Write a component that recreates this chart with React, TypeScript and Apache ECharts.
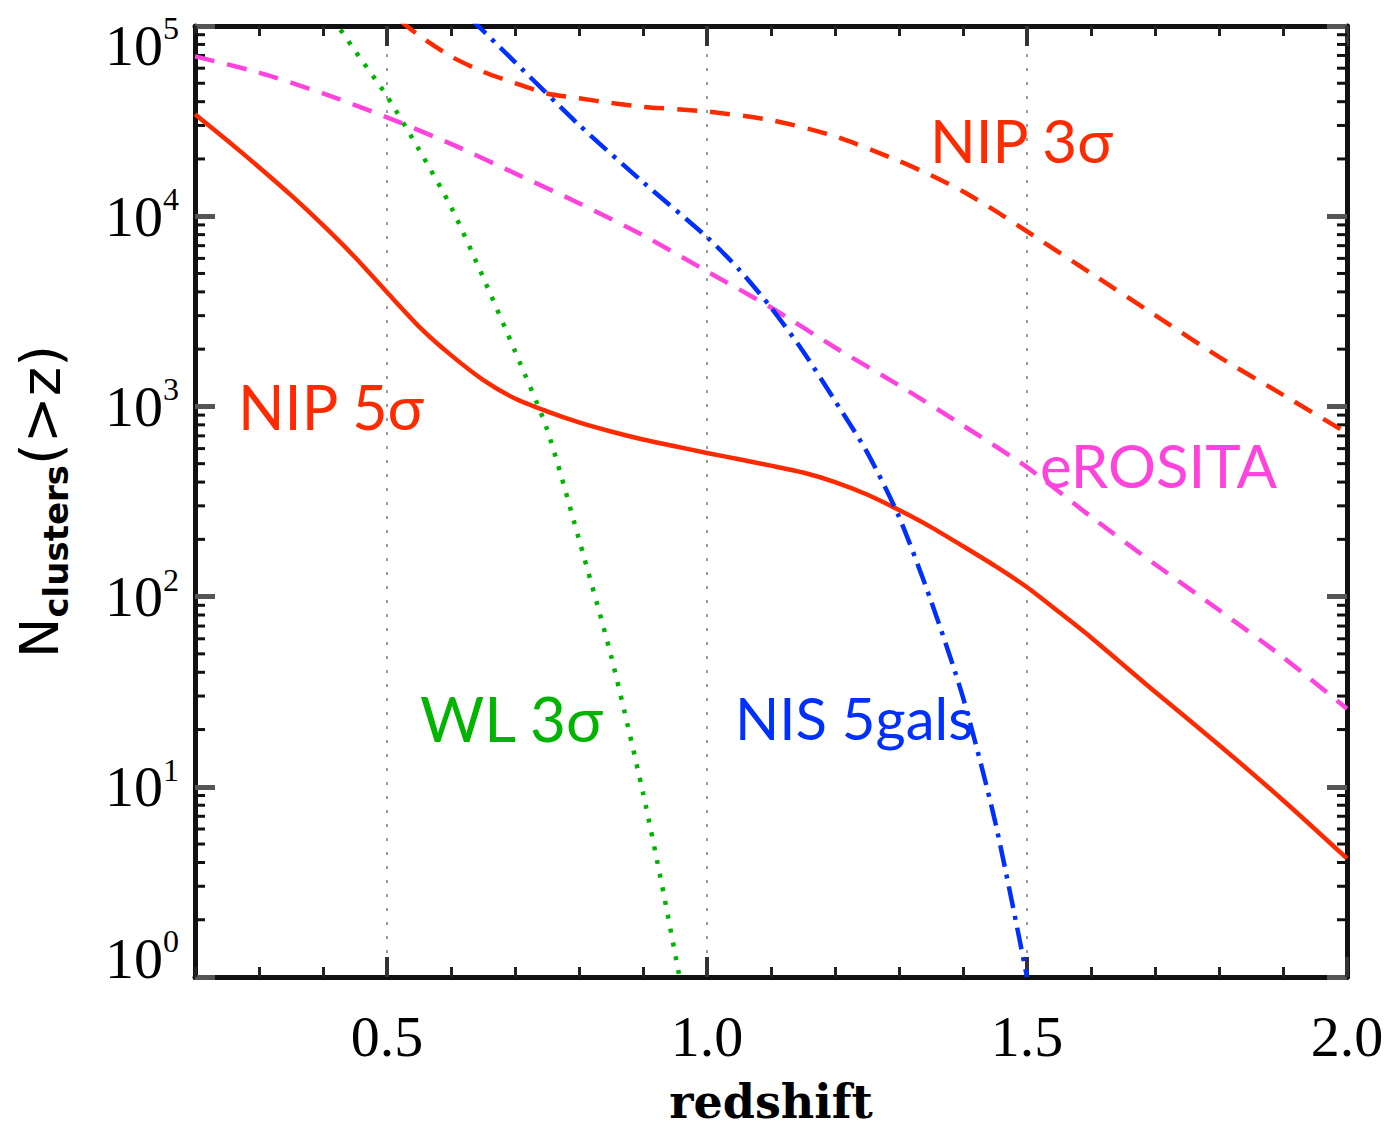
import React, { useEffect, useRef } from "react";
import * as echarts from "echarts";

// ---- axis ranges / ticks ----
const X_MIN = 0.2;
const X_MAX = 2.0;
const Y_MIN = 1;
const Y_MAX = 100000;
const xMajorTicks = [0.5, 1.0, 1.5, 2.0];
const yDecades = [1, 10, 100, 1000, 10000];
const yMinorMultipliers = [2, 3, 4, 5, 6, 7, 8, 9];

// ---- series data (redshift z, N(>z)) ----
const nip5Z = [0.2, 0.25, 0.3, 0.35, 0.4, 0.45, 0.5, 0.55, 0.6, 0.65, 0.7, 0.75, 0.8, 0.85, 0.9, 0.95, 1.0, 1.05, 1.1, 1.15, 1.2, 1.25, 1.3, 1.35, 1.4, 1.45, 1.5, 1.55, 1.6, 1.7, 1.8, 1.9, 2.0];
const nip5N = [34400, 25100, 18100, 12900, 8970, 6080, 3980, 2630, 1860, 1380, 1100, 942, 824, 738, 670, 617, 569, 527, 488, 449, 400, 344, 285, 232, 184, 145, 112, 83, 61, 31.6, 16.6, 8.5, 4.2];

const nip3Z = [0.52, 0.55, 0.6, 0.65, 0.7, 0.75, 0.8, 0.85, 0.9, 1.0, 1.1, 1.2, 1.3, 1.35, 1.4, 1.45, 1.5, 1.6, 1.7, 1.8, 1.9, 2.0];
const nip3N = [107000, 89100, 69200, 57500, 50100, 44200, 41700, 39400, 37600, 35500, 32000, 26300, 19500, 16400, 13500, 10700, 8320, 5010, 3020, 1820, 1150, 724];

const eroZ = [0.2, 0.3, 0.4, 0.5, 0.6, 0.7, 0.8, 0.9, 1.0, 1.1, 1.2, 1.3, 1.4, 1.5, 1.6, 1.7, 1.8, 1.9, 2.0];
const eroN = [69200, 56900, 44200, 33100, 24000, 16800, 11700, 7940, 5130, 3310, 2040, 1290, 794, 479, 263, 148, 85, 48, 25.7];

const wlZ = [0.415, 0.45, 0.5, 0.55, 0.6, 0.65, 0.7, 0.75, 0.8, 0.85, 0.9, 0.93, 0.957];
const wlN = [110000, 74100, 42700, 22400, 11200, 4790, 1950, 759, 200, 49, 9.3, 3.0, 1.0];

const nisZ = [0.63, 0.7, 0.8, 0.9, 1.0, 1.05, 1.1, 1.15, 1.2, 1.25, 1.3, 1.35, 1.4, 1.45, 1.5];
const nisN = [110000, 64600, 30200, 15100, 7760, 5250, 3310, 1950, 1070, 575, 263, 95, 29.5, 6.6, 1.0];

const RED = "#ff2a00";
const MAGENTA = "#ff44dd";
const GREEN = "#00b400";
const BLUE = "#0030ff";

const zip = (xs: number[], ys: number[]) => xs.map((x, i) => [x, ys[i]]);

export default function App() {
  const ref = useRef<HTMLDivElement>(null);

  useEffect(() => {
    if (!ref.current) return;
    const chart = echarts.init(ref.current, undefined, { renderer: "svg" });

    const yMinor: number[] = [];
    yDecades.forEach((d) => yMinorMultipliers.forEach((m) => yMinor.push(m * d)));

    const tickFont = "Liberation Serif";
    const minorX = {
      type: "value",
      min: X_MIN,
      max: X_MAX,
      interval: 0.1,
      axisLine: { show: true, onZero: false, lineStyle: { color: "#111", width: 5 } },
      axisTick: { show: true, inside: true, length: 10, lineStyle: { color: "#222", width: 3 } },
      axisLabel: { show: false },
      splitLine: { show: false },
    };
    const majorX = {
      type: "value",
      min: X_MIN,
      max: X_MAX,
      axisLine: { show: false, onZero: false },
      axisTick: { show: true, inside: true, length: 20, customValues: xMajorTicks, lineStyle: { color: "#333", width: 4 } },
      splitLine: { show: false },
    };

    const lineSeries = (name: string, data: number[][], color: string, type: any) => ({
      name,
      type: "line",
      xAxisIndex: 0,
      yAxisIndex: 0,
      data,
      showSymbol: false,
      symbol: "none",
      smooth: 0.25,
      clip: true,
      z: 3,
      lineStyle: { color, width: 4.5, type },
    });

    const option: any = {
      animation: false,
      backgroundColor: "#ffffff",
      grid: { left: 195, right: 42, top: 26, bottom: 154, containLabel: false, outerBoundsMode: "none" },
      xAxis: [
        { ...minorX, position: "bottom" },
        {
          ...majorX,
          position: "bottom",
          axisLabel: {
            show: true,
            customValues: xMajorTicks,
            formatter: (v: number) => v.toFixed(1),
            margin: 30,
            fontFamily: tickFont,
            fontSize: 58,
            color: "#000",
          },
          splitLine: { show: true, lineStyle: { color: "#999", width: 2, type: [3, 11] } },
          name: "redshift",
          nameLocation: "middle",
          nameGap: 105,
          nameTextStyle: { fontFamily: "DejaVu Serif", fontWeight: "bold", fontSize: 46, lineHeight: 40, color: "#000" },
        },
        { ...minorX, position: "top" },
        { ...majorX, position: "top", axisLabel: { show: false } },
      ],
      yAxis: [
        {
          type: "log",
          logBase: 10,
          position: "left",
          min: Y_MIN,
          max: Y_MAX,
          axisLine: { show: true, onZero: false, lineStyle: { color: "#111", width: 5 } },
          axisTick: { show: true, inside: true, length: 20, lineStyle: { color: "#555", width: 5 } },
          splitLine: { show: false },
          axisLabel: {
            margin: 16,
            verticalAlignMinLabel: "bottom",
            verticalAlignMaxLabel: "top",
            formatter: (v: number) => "{b|10}{s|" + Math.round(Math.log10(v)) + "}",
            rich: {
              b: { fontFamily: tickFont, fontSize: 58, lineHeight: 38, color: "#000" },
              s: { fontFamily: tickFont, fontSize: 32, height: 4, lineHeight: 4, color: "#000", verticalAlign: "top" },
            },
          },
          name: "{n|N}{s|clusters}{p|(>z)}",
          nameLocation: "middle",
          nameRotate: 90,
          nameGap: 122,
          nameTextStyle: {
            rich: {
              n: { fontFamily: "DejaVu Sans", fontSize: 54, color: "#000", verticalAlign: "top", lineHeight: 54 },
              p: { fontFamily: "DejaVu Sans", fontSize: 56, color: "#000", verticalAlign: "top", lineHeight: 54 },
              s: { fontFamily: "DejaVu Sans", fontWeight: "bold", fontSize: 34, color: "#000", verticalAlign: "bottom", padding: [27, 0, 0, 0] },
            },
          },
        },
        {
          type: "log",
          logBase: 10,
          position: "right",
          min: Y_MIN,
          max: Y_MAX,
          axisLine: { show: true, onZero: false, lineStyle: { color: "#111", width: 5 } },
          axisTick: { show: true, inside: true, length: 20, lineStyle: { color: "#555", width: 5 } },
          axisLabel: { show: false },
          splitLine: { show: false },
        },
      ],
      series: [
        {
          type: "custom",
          xAxisIndex: 0,
          yAxisIndex: 0,
          silent: true,
          z: 1,
          data: yMinor.map((v) => [X_MIN, v]),
          renderItem: (params: any, api: any) => {
            const v = api.value(1);
            const l = api.coord([X_MIN, v]);
            const r = api.coord([X_MAX, v]);
            return {
              type: "group",
              children: [
                { type: "line", shape: { x1: l[0], y1: l[1], x2: l[0] + 10, y2: l[1] }, style: { stroke: "#111", lineWidth: 3 } },
                { type: "line", shape: { x1: r[0] - 10, y1: r[1], x2: r[0], y2: r[1] }, style: { stroke: "#111", lineWidth: 3 } },
              ],
            };
          },
        },
        lineSeries("NIP 5σ", zip(nip5Z, nip5N), RED, "solid"),
        lineSeries("NIP 3σ", zip(nip3Z, nip3N), RED, [20, 13]),
        lineSeries("eROSITA", zip(eroZ, eroN), MAGENTA, [20, 13]),
        lineSeries("WL 3σ", zip(wlZ, wlN), GREEN, [4, 10]),
        lineSeries("NIS 5gals", zip(nisZ, nisN), BLUE, [22, 8, 4, 8]),
      ],
      graphic: [
        { type: "text", x: 930, y: 140, z: 10, style: { text: "NIP 3σ", fontFamily: "Lato", fontSize: 60, fill: RED, align: "left", verticalAlign: "middle" } },
        { type: "text", x: 238, y: 406, z: 10, style: { text: "NIP 5σ", fontFamily: "Lato", fontSize: 61, fill: RED, align: "left", verticalAlign: "middle" } },
        { type: "text", x: 1040, y: 465, z: 10, style: { text: "eROSITA", fontFamily: "Lato", fontSize: 60, fill: MAGENTA, align: "left", verticalAlign: "middle" } },
        { type: "text", x: 420, y: 718, z: 10, style: { text: "WL 3σ", fontFamily: "Lato", fontSize: 62, fill: GREEN, align: "left", verticalAlign: "middle" } },
        { type: "text", x: 735, y: 717, z: 10, style: { text: "NIS 5gals", fontFamily: "Lato", fontSize: 58, fill: BLUE, align: "left", verticalAlign: "middle" } },
      ],
    };

    chart.setOption(option);
    return () => chart.dispose();
  }, []);

  return (
    <div
      ref={ref}
      style={{ position: "absolute", left: 0, top: 0, width: 1389, height: 1131, background: "#fff" }}
    />
  );
}
